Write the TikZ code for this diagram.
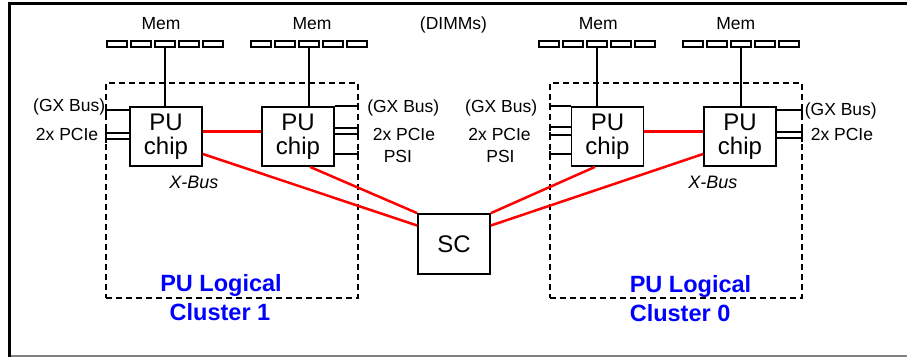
\documentclass[tikz,border=0pt]{standalone}
\usepackage{fontspec}
\setmainfont{Liberation Sans}
\usetikzlibrary{arrows.meta}
\begin{document}
\begin{tikzpicture}[x=1pt,y=-1pt,line width=1.6pt,
  lbl/.style={font=\fontsize{17.5}{20}\selectfont,inner sep=0pt},
  chipbox/.style={draw,line width=1.8pt,minimum width=72pt,minimum height=59pt,inner sep=0pt,align=center,font=\fontsize{24}{24.4}\selectfont},
  dimm/.style={draw,line width=1.8pt,minimum width=20pt,minimum height=5.5pt,inner sep=0pt},
  cluster/.style={draw,line width=1.5pt,dash pattern=on 6pt off 4pt,inner sep=0pt},
  xbus/.style={draw=red,line width=2.5pt},
  wire/.style={line width=1.6pt,-{Bar[width=7pt,line width=1.5pt]}},
  clab/.style={font=\fontsize{23.5}{28}\bfseries\selectfont,text=blue,inner sep=0pt},
  xlab/.style={font=\fontsize{18}{20}\itshape\selectfont,inner sep=0pt}]
\useasboundingbox (0,0) rectangle (907,357);
% frame
\draw[line width=3pt] (9,357) -- (9,3.5) -- (907,3.5);
\draw[gray,line width=1.5pt] (10.5,356) -- (907,356);
% clusters
\node[cluster,minimum width=252pt,minimum height=214.7pt] (cl1) at (232,190.4) {};
\node[cluster,minimum width=252pt,minimum height=214.7pt] (cl0) at (676,190.4) {};
% chips
\node[chipbox] (chip1) at (166,136.5) {PU\\chip};
\node[chipbox] (chip2) at (298,136.5) {PU\\chip};
\node[chipbox] (chip3) at (607.5,136.5) {PU\\chip};
\node[chipbox] (chip4) at (740,136.5) {PU\\chip};
\node[chipbox,minimum height=60pt] (sc) at (454,244) {SC};
% DIMM rows
\foreach \r/\cx in {1/165,2/309,3/597,4/741}{
  \foreach \i in {1,...,5}{
    \node[dimm] (m\r\i) at (\cx+24*\i-72,44) {};
  }
}
% mem lines
\draw (m13.south) -- (m13.south |- chip1.north);
\draw (m23.south) -- (m23.south |- chip2.north);
\draw (m33.south) -- (m33.south |- chip3.north);
\draw (m43.south) -- (m43.south |- chip4.north);
% labels top
\node[lbl,anchor=base] (mem1) at (161,29.5) {Mem};
\node[lbl,anchor=base] (mem2) at (312,29.5) {Mem};
\node[lbl,anchor=base] (mem3) at (598.3,29.5) {Mem};
\node[lbl,anchor=base] (mem4) at (735.7,29.5) {Mem};
\node[lbl,anchor=base] (dimms) at (453.5,29.5) {(DIMMs)};
% red X-bus / SC links
\draw[xbus] ([yshift=5pt]chip1.east) -- ([yshift=5pt]chip2.west);
\draw[xbus] ([yshift=5pt]chip3.east) -- ([yshift=5pt]chip4.west);
\draw[xbus] ([yshift=-17.5pt]chip1.east) -- ([yshift=18.5pt]sc.west);
\draw[xbus] ([xshift=12pt]chip2.south) -- (sc.north west);
\draw[xbus] ([xshift=-12.5pt]chip3.south) -- (sc.north east);
\draw[xbus] ([yshift=-17.5pt]chip4.west) -- ([yshift=18.5pt]sc.east);
% side wires chip1 (left)
\draw[wire] (chip1.west |- 0,110) -- (cl1.west |- 0,110);
\draw[wire] (chip1.west |- 0,133) -- (cl1.west |- 0,133);
\draw[wire] (chip1.west |- 0,139) -- (cl1.west |- 0,139);
% chip2 (right)
\draw[wire] (chip2.north east) -- (cl1.east |- chip2.north);
\draw[wire] (chip2.east |- 0,128) -- (cl1.east |- 0,128);
\draw[wire] (chip2.east |- 0,134) -- (cl1.east |- 0,134);
\draw[wire] (chip2.east |- 0,154) -- (cl1.east |- 0,154);
% chip3 (left)
\draw[wire] (chip3.north west) -- (cl0.west |- chip3.north);
\draw[wire] (chip3.west |- 0,127) -- (cl0.west |- 0,127);
\draw[wire] (chip3.west |- 0,135) -- (cl0.west |- 0,135);
\draw[wire] (chip3.west |- 0,154) -- (cl0.west |- 0,154);
% chip4 (right)
\draw[wire] (chip4.east |- 0,110) -- (cl0.east |- 0,110);
\draw[wire] (chip4.east |- 0,132) -- (cl0.east |- 0,132);
\draw[wire] (chip4.east |- 0,138) -- (cl0.east |- 0,138);
% side labels
\node[lbl,anchor=base east] (gx1) at (106,111.7) {(GX Bus)};
\node[lbl,anchor=base east] (pc1) at (99,140) {2x PCIe};
\node[lbl,anchor=base west] (gx2) at (366.5,112) {(GX Bus)};
\node[lbl,anchor=base west] (pc2) at (372,140) {2x PCIe};
\node[lbl,anchor=base west] (psi2) at (383,162) {PSI};
\node[lbl,anchor=base east] (gx3) at (538,112) {(GX Bus)};
\node[lbl,anchor=base east] (pc3) at (531.5,140) {2x PCIe};
\node[lbl,anchor=base] (psi3) at (500.5,162) {PSI};
\node[lbl,anchor=base west] (gx4) at (804,115.5) {(GX Bus)};
\node[lbl,anchor=base west] (pc4) at (810,140) {2x PCIe};
% X-Bus labels
\node[xlab,anchor=base] (xb1) at (193.8,188) {X-Bus};
\node[xlab,anchor=base] (xb0) at (712.8,188) {X-Bus};
% cluster labels
\node[clab,anchor=base] (c1a) at (221,291.7) {PU Logical};
\node[clab,anchor=base] (c1b) at (220,320.5) {Cluster 1};
\node[clab,anchor=base west] (c0a) at (629,292) {PU Logical};
\node[clab,anchor=base west] (c0b) at (629,321) {Cluster 0};
\end{tikzpicture}
\end{document}
